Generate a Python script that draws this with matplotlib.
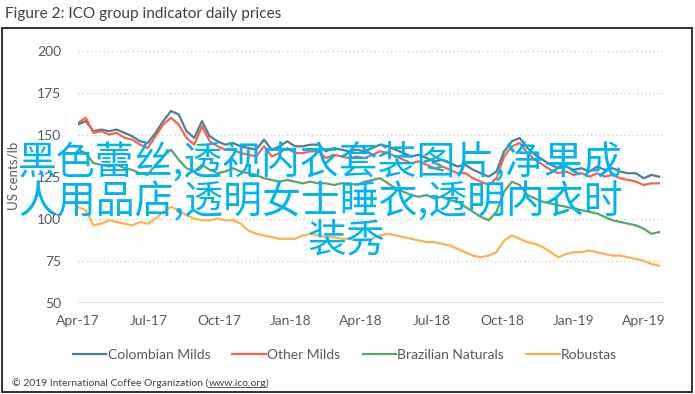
import matplotlib
matplotlib.use('Agg')
import matplotlib.pyplot as plt
import matplotlib.dates as mdates
import pandas as pd
from matplotlib.lines import Line2D
from matplotlib.patches import Rectangle

# ICO group indicator prices, US cents/lb, sampled every 10 days from the picture
dates = pd.date_range('2017-04-01', periods=76, freq='10D')

colombian = [156, 158, 152, 153, 152, 153, 151, 149, 146, 145,
             151, 158, 164, 162, 152, 148, 158, 149, 146, 144,
             145, 143, 142, 141, 147, 141, 143, 146, 143, 143,
             144, 144, 140, 142, 141, 140, 141, 140, 142, 144,
             143, 141, 139, 137, 138, 136, 134, 135, 133, 131,
             132, 129, 127, 125, 128, 140, 146, 148, 142, 138,
             135, 132, 130, 131, 129, 130, 128, 131, 129, 130,
             128, 127, 127, 124, 126, 125]

other_milds = [157, 160, 151, 152, 150, 151, 148, 147, 144, 142,
               149, 156, 160, 156, 148, 144, 155, 146, 143, 141,
               141, 139, 138, 137, 143, 137, 139, 142, 139, 139,
               140, 140, 136, 138, 137, 136, 137, 136, 138, 140,
               139, 137, 135, 133, 134, 132, 130, 131, 129, 127,
               127, 124, 122, 120, 124, 137, 143, 145, 139, 135,
               132, 129, 127, 128, 126, 127, 125, 127, 125, 126,
               124, 123, 122, 120, 121, 121]

brazilian = [141, 139, 133, 132, 131, 132, 130, 129, 127, 126,
             132, 137, 141, 135, 130, 128, 132, 129, 127, 128,
             130, 128, 127, 126, 124, 123, 122, 123, 122, 121,
             122, 121, 121, 120, 121, 121, 120, 122, 123, 124,
             121, 118, 116, 114, 113, 114, 112, 113, 111, 110,
             107, 104, 101, 99, 104, 116, 122, 120, 114, 112,
             110, 109, 108, 107, 106, 105, 104, 103, 101, 99,
             98, 97, 96, 94, 91, 92]

robustas = [107, 105, 96, 97, 99, 98, 97, 96, 98, 97,
            100, 104, 107, 105, 102, 100, 99, 99, 100, 99,
            99, 97, 93, 91, 90, 89, 88, 88, 88, 90,
            91, 90, 89, 89, 88, 88, 87, 87, 88, 90,
            91, 90, 89, 88, 87, 86, 86, 85, 84, 82,
            80, 78, 77, 78, 80, 87, 90, 88, 86, 85,
            83, 80, 77, 79, 80, 80, 81, 80, 79, 78,
            78, 77, 76, 75, 73, 72]

series_names = ['Colombian Milds', 'Other Milds', 'Brazilian Naturals', 'Robustas']
series_colors = ['#4F7E98', '#F4654C', '#5BA56B', '#FDB24D']

overlay_lines = ['黑色蕾丝,透视内衣套装图片,净果成',
                 '人用品店,透明女士睡衣,透明内衣时',
                 '装秀']

W, H = 695, 394
latin = ['Lato', 'DejaVu Sans']
grey = '#595959'

fig = plt.figure(figsize=(W / 100, H / 100), dpi=100)
ax = fig.add_axes([78 / W, 1 - 302.7 / H, (663 - 78) / W, (302.7 - 50.5) / H])

for vals, name, col in zip([colombian, other_milds, brazilian, robustas],
                           series_names, series_colors):
    ax.plot(dates, vals, color=col, lw=1.6, label=name, zorder=3)

ax.set_ylim(50, 200)
ax.set_xlim(pd.Timestamp('2017-04-01'), pd.Timestamp('2019-04-26'))
ax.set_yticks(range(50, 201, 25))
ax.xaxis.set_major_locator(mdates.MonthLocator(bymonth=[1, 4, 7, 10]))
ax.xaxis.set_major_formatter(mdates.DateFormatter('%b-%y'))

for v in range(75, 201, 25):
    ax.axhline(v, color='#D0D0D0', lw=1.0, ls=(0, (1, 2)), zorder=1)
ax.axhline(50, color='#D9D9D9', lw=1.2, zorder=1)

for s in ax.spines.values():
    s.set_visible(False)
ax.tick_params(length=0, colors=grey, labelsize=10)
ax.tick_params(axis='y', pad=12)
ax.tick_params(axis='x', pad=9)
for lab in ax.get_xticklabels() + ax.get_yticklabels():
    lab.set_family(latin)

fig.text(14 / W, 1 - 176 / H, 'US cents/lb', rotation=90, ha='center', va='center',
         fontsize=9.5, color=grey, family=latin)

fig.text(5 / W, 1 - 14 / H, 'Figure 2: ICO group indicator daily prices',
         ha='left', va='center', fontsize=11.1, color='#404040', family=latin)

# frame around the chart area
fig.patches.append(Rectangle((1.5 / W, 2 / H), (692 - 1.5) / W, (366 - 2) / H,
                             transform=fig.transFigure, fill=False,
                             edgecolor='#222222', lw=1.3))

handles = [Line2D([], [], color=c, lw=1.6) for c in series_colors]
fig.legend(handles, series_names, loc='center', bbox_to_anchor=(345 / W, 1 - 355 / H),
           ncol=4, frameon=False, handlelength=2.4, handletextpad=0.1,
           columnspacing=1.6, prop={'family': latin, 'size': 10},
           labelcolor=grey)

foot = fig.text(12 / W, 1 - 383 / H, '© 2019 International Coffee Organization (',
                ha='left', va='center', fontsize=7.5, color='#404040', family=latin)
fig.canvas.draw()
r = fig.canvas.get_renderer()
bb = foot.get_window_extent(r)
url = fig.text(bb.x1 / W, 1 - 383 / H, 'www.ico.org', ha='left', va='center',
               fontsize=7.5, color='#404040', family=latin)
bb2 = url.get_window_extent(r)
fig.text(bb2.x1 / W, 1 - 383 / H, ')', ha='left', va='center',
         fontsize=7.5, color='#404040', family=latin)
fig.lines.append(Line2D([bb2.x0 / W, bb2.x1 / W], [(bb2.y0 + 1) / H] * 2,
                        transform=fig.transFigure, color='#404040', lw=0.6))

# big cyan overlay text
cjk = ['Noto Sans CJK SC', 'DejaVu Sans']
fig.text(18 / W, 1 - 162 / H, overlay_lines[0], ha='left', va='center',
         fontsize=28, color='#00B4EF', family=cjk, weight='medium', zorder=10)
fig.text(18 / W, 1 - 202 / H, overlay_lines[1], ha='left', va='center',
         fontsize=28, color='#00B4EF', family=cjk, weight='medium', zorder=10)
fig.text(308 / W, 1 - 241 / H, overlay_lines[2], ha='left', va='center',
         fontsize=28, color='#00B4EF', family=cjk, weight='medium', zorder=10)

fig.savefig('out.png', dpi=100)
